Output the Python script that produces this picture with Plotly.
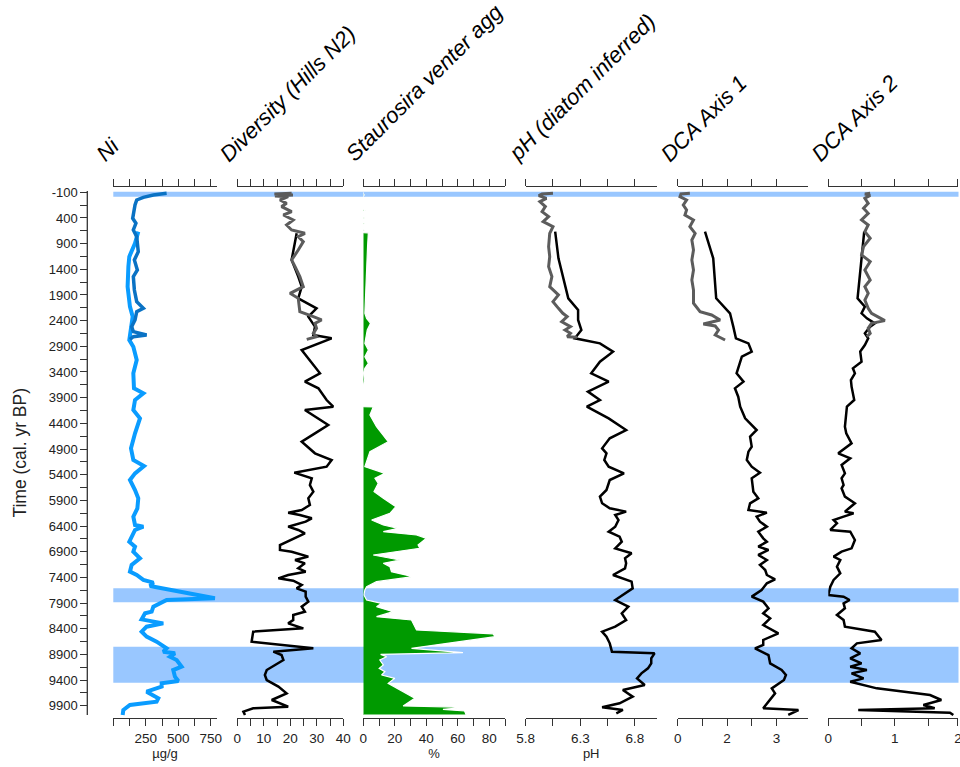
import plotly.graph_objects as go

# ---------------- DATA (age in cal. yr BP, value) ----------------
ni_core_long = [(666,192),(894,167),(1153,123),(1348,116),(1738,110),(2127,128),(2322,149),(2517,136),(2777,123),
    (2907,154),(3166,180),(3426,154),(3718,159),(3816,231),(3946,167),(4140,154),(4303,205),(4595,167),(4887,136),
    (5114,154),(5231,236),(5374,167),(5504,128),(5698,167),(5861,192),(6056,185),(6218,154),(6380,167),(6413,231),
    (6477,167),(6705,123),(6802,167),(6900,154),(7029,205),(7159,141),(7289,128),(7354,180),(7451,231),(7503,308),
    (7568,282),(7614,384),(7711,563),(7808,781),(7841,410),(7906,359),(7971,308),(8068,295),(8101,244),(8218,218),
    (8296,384),(8361,256),(8458,218),(8555,256),(8653,333),(8783,410),(8848,384),(8880,474),(8945,436),(9010,487),
    (9140,525),(9205,461),(9335,474),(9419,500),(9464,372),(9529,372),(9627,256),(9756,346),(9821,333),(9886,128),
    (9984,77),(10081,72)]
ni_core_short = [(-80,410),(-48,308),(-2,231),(50,180),(147,167),(310,159),(407,149),(504,174),(634,154),(764,180),
    (1056,192),(1218,162),(1413,185),(1543,154),(1803,162),(2030,180),(2160,231),(2225,180),(2387,167),(2517,141),
    (2614,154),(2679,256),(2712,154),(2764,128)]

div_core_long = [(699,22.4),(1218,20.5),(1543,23.0),(1738,24.3),(1965,23.0),(2160,29.9),(2322,26.8),(2517,29.3),
    (2679,28.7),(2744,35.6),(2971,24.3),(3166,27.4),(3426,31.2),(3588,25.5),(3718,30.6),(3946,33.7),(4075,36.2),
    (4140,25.5),(4432,34.3),(4595,29.3),(4757,24.3),(4984,29.3),(5114,35.6),(5244,33.7),(5361,21.5),(5471,28.1),
    (5601,27.4),(5731,28.7),(5861,26.8),(5990,27.4),(6088,24.3),(6140,19.2),(6185,23.6),(6250,28.1),(6315,25.8),
    (6413,19.2),(6477,23.0),(6542,25.5),(6672,20.5),(6770,16.1),(6867,16.1),(6900,20.5),(6997,26.8),(7062,21.8),
    (7127,25.5),(7224,23.0),(7289,25.8),(7354,19.2),(7419,15.5),(7464,21.1),(7549,24.3),(7614,22.4),(7679,25.8),
    (7776,25.8),(7873,26.8),(7971,24.3),(8068,25.5),(8133,21.1),(8231,21.1),(8296,19.2),(8393,24.9),(8458,6.0),
    (8653,5.4),(8783,28.7),(8848,13.6),(8913,16.7),(9010,17.4),(9205,11.1),(9302,10.4),(9400,11.1),(9529,15.5),
    (9659,18.6),(9789,13.0),(9919,19.2),(9951,6.0),(10016,2.3),(10081,2.9)]
div_core_short = [(-80,20.5),(-67,14.0),(-48,21.0),(-30,14.2),(-15,19.2),(50,16.1),(115,18.6),(179,16.7),(277,20.5),
    (342,17.4),(439,21.1),(537,18.6),(634,20.5),(699,25.5),(764,23.0),(861,24.9),(1024,23.0),(1218,20.5),(1348,21.8),
    (1543,23.6),(1738,24.9),(1868,19.9),(1965,23.0),(2225,23.6),(2322,28.7),(2387,31.8),(2452,29.3),(2549,29.9),
    (2647,28.7),(2712,29.9),(2764,26.2)]

stau_pct = [(-100,0),(-60,0),(-50,0.8),(-40,0),(240,0),(250,1.5),(265,0),(390,0),(400,0.8),(410,0),(500,0),
    (510,0.8),(520,0),(630,0),(640,0.8),(650,0),(686,0),(690,3.2),(959,2.7),(1348,2.1),(1868,1.5),(2257,1.0),
    (2355,2.1),(2452,4.6),(2582,2.5),(2842,1.0),(2971,3.2),(3101,1.0),(3231,3.2),(3329,1.0),(3420,0),(3556,0.8),
    (3650,0),(4075,0),(4080,6.3),(4238,4.2),(4465,8.4),(4757,15.8),(4952,4.2),(5244,1.0),(5374,13.7),(5471,7.4),
    (5568,9.5),(5731,6.8),(5861,12.7),(6023,20.7),(6153,16.9),(6283,5.3),(6380,12.7),(6445,22.2),(6510,12.7),
    (6575,33.8),(6640,40.1),(6770,34.8),(6835,35.9),(6964,6.3),(7062,23.2),(7127,12.7),(7192,16.9),(7289,17.9),
    (7386,31.6),(7484,8.4),(7581,2.1),(7646,1.0),(7744,0.4),(7841,2.1),(7906,11.6),(7971,8.4),(8068,19.0),
    (8166,8.4),(8231,30.6),(8361,32.7),(8426,33.8),(8500,82.3),(8555,83.8),(8783,30.6),(8867,63.3),(8900,11.0),
    (8945,14.8),(9010,10.5),(9107,12.7),(9172,10.1),(9237,13.7),(9302,11.6),(9367,20.0),(9464,15.8),(9594,23.2),
    (9756,32.7),(9906,25.3),(9932,65.4),(9971,50.6),(10003,64.3),(10081,65.4)]

ph_core_long = [(666,6.07),(1186,6.10),(1965,6.19),(2192,6.28),(2387,6.28),(2582,6.31),(2744,6.25),(2842,6.48),
    (3004,6.60),(3199,6.48),(3426,6.40),(3588,6.56),(3783,6.37),(3946,6.48),(4075,6.36),(4303,6.56),(4530,6.72),
    (4692,6.57),(4887,6.50),(4984,6.54),(5114,6.52),(5244,6.56),(5374,6.70),(5504,6.57),(5698,6.54),(5828,6.48),
    (5958,6.50),(6056,6.57),(6120,6.72),(6185,6.62),(6283,6.65),(6413,6.62),(6510,6.56),(6607,6.66),(6705,6.68),
    (6835,6.62),(6932,6.77),(7029,6.71),(7127,6.72),(7224,6.71),(7354,6.60),(7484,6.77),(7614,6.78),(7711,6.71),
    (7841,6.62),(7971,6.74),(8101,6.68),(8231,6.72),(8361,6.62),(8458,6.50),(8555,6.54),(8685,6.57),(8848,6.59),
    (8880,6.98),(8978,6.95),(9075,6.95),(9172,6.92),(9270,6.86),(9367,6.82),(9497,6.89),(9594,6.69),(9724,6.78),
    (9854,6.66),(9932,6.50),(9984,6.69),(10049,6.63)]
ph_core_short = [(-80,6.05),(-67,5.95),(-35,5.92),(17,5.99),(82,5.93),(179,5.98),(277,5.95),(374,6.01),(472,5.96),
    (569,6.05),(699,6.02),(959,6.01),(1153,6.02),(1348,6.01),(1543,6.04),(1738,6.02),(1900,6.10),(2030,6.05),
    (2160,6.10),(2257,6.14),(2322,6.18),(2420,6.13),(2517,6.21),(2582,6.16),(2647,6.21),(2712,6.18),(2725,6.27)]

dca1_core_long = [(666,0.83),(1186,1.08),(1965,1.17),(2257,1.59),(2517,1.69),(2744,1.77),(2842,2.15),(3004,2.25),
    (3101,1.95),(3426,1.79),(3588,2.00),(3718,1.74),(3881,1.84),(4075,1.90),(4303,2.05),(4400,2.20),(4530,2.40),
    (4660,2.20),(4854,2.25),(4952,2.15),(5114,2.10),(5244,2.25),(5361,2.50),(5471,2.25),(5731,2.30),(5861,2.45),
    (5958,2.20),(6088,2.15),(6140,2.71),(6218,2.40),(6315,2.50),(6413,2.71),(6510,2.45),(6640,2.60),(6705,2.71),
    (6802,2.45),(6867,2.76),(6964,2.45),(7062,2.71),(7159,2.50),(7257,2.66),(7354,2.71),(7438,2.96),(7516,2.71),
    (7646,2.55),(7776,2.25),(7873,2.60),(8003,2.76),(8101,2.60),(8198,2.81),(8328,2.60),(8490,3.06),(8620,2.60),
    (8718,2.60),(8783,2.35),(8913,2.76),(9075,2.81),(9205,3.16),(9302,3.29),(9400,3.23),(9562,2.86),(9659,2.96),
    (9789,2.81),(9951,2.60),(9984,3.67),(10081,3.36)]
dca1_core_short = [(-80,0.37),(-67,0.10),(-15,0.07),(50,0.27),(147,0.17),(244,0.27),(342,0.22),(439,0.48),
    (569,0.37),(699,0.53),(829,0.43),(1024,0.48),(1218,0.43),(1413,0.48),(1608,0.43),(1803,0.48),(2062,0.48),
    (2225,0.68),(2290,1.03),(2387,1.29),(2465,0.78),(2504,1.14),(2582,1.24),(2679,1.14),(2777,1.44)]

dca2_core_long = [(666,0.54),(1965,0.44),(2127,0.55),(2257,0.50),(2355,0.58),(2452,0.70),(2517,0.63),(2647,0.55),
    (2744,0.60),(2874,0.55),(3004,0.48),(3199,0.50),(3329,0.37),(3426,0.40),(3556,0.34),(3685,0.35),(3946,0.39),
    (4075,0.28),(4465,0.25),(4595,0.27),(4790,0.35),(4984,0.15),(5082,0.33),(5211,0.20),(5374,0.25),(5471,0.20),
    (5601,0.23),(5666,0.20),(5828,0.25),(5958,0.40),(6120,0.25),(6153,0.38),(6218,0.23),(6283,0.08),(6348,0.13),
    (6477,0.03),(6510,0.33),(6672,0.40),(6835,0.35),(6900,0.20),(6997,0.08),(7062,0.18),(7192,0.13),(7322,0.18),
    (7451,0.08),(7581,0.03),(7744,0.00),(7776,0.23),(7841,0.32),(7906,0.23),(8003,0.25),(8133,0.13),(8231,0.23),
    (8361,0.25),(8458,0.70),(8620,0.80),(8685,0.43),(8783,0.35),(8880,0.48),(8978,0.33),(9075,0.50),(9140,0.33),
    (9205,0.58),(9270,0.35),(9367,0.53),(9432,0.33),(9562,0.73),(9692,1.53),(9789,1.70),(9886,1.43),(9951,1.60),
    (9984,0.45),(10036,1.83),(10081,1.88)]
dca2_core_short = [(-80,0.63),(-67,0.55),(-40,0.63),(17,0.55),(115,0.60),(212,0.53),(310,0.60),(439,0.50),
    (537,0.60),(666,0.55),(796,0.63),(959,0.53),(1121,0.50),(1251,0.63),(1413,0.55),(1608,0.63),(1738,0.55),
    (1868,0.60),(1998,0.55),(2160,0.60),(2257,0.65),(2355,0.78),(2400,0.85),(2452,0.65),(2549,0.60),(2647,0.63),
    (2712,0.58)]

event_bands = [(-110, -15), (7613, 7886), (8751, 9452)]

panel_titles = ["Ni", "Diversity (Hills N2)", "Staurosira venter agg", "pH (diatom inferred)", "DCA Axis 1", "DCA Axis 2"]
unit_titles = ["µg/g", "", "%", "pH", "", ""]
y_tick_vals = list(range(-100, 10000, 500))
y_minor_vals = list(range(150, 10000, 500))

# ---------------- LAYOUT GEOMETRY ----------------
W, H = 960, 767
def px(x): return x / W
def py(y): return 1 - y / H

panels_px = [(113.3, 216.7), (237.3, 343.3), (363.3, 505.0), (525.7, 656.7), (677.7, 808.3), (828.3, 958.3)]
panel_ranges = [[0, 795], [0, 40], [0, 90], [5.8, 7.0], [0, 3.97], [0, 1.955]]
panel_ticks = [
    ([0, 125, 250, 375, 500, 625, 750], ["", "", "250", "", "500", "", "750"]),
    ([0, 5, 10, 15, 20, 25, 30, 35, 40], ["0", "", "10", "", "20", "", "30", "", "40"]),
    ([0, 10, 20, 30, 40, 50, 60, 70, 80, 90], ["0", "", "20", "", "40", "", "60", "", "80", ""]),
    ([5.8, 6.05, 6.3, 6.55, 6.8], ["5.8", "", "6.3", "", "6.8"]),
    ([0, 0.75, 1.5, 2.25, 3.0], ["0", "", "2", "", "3"]),
    ([0, 0.5, 1.0, 1.5, 1.95], ["0", "", "1", "", "2"]),
]

AX = "#333333"
FONT = "Liberation Sans, Arial, sans-serif"
BLACK, GRAY = "#000000", "#5c5c5c"

def unz(pairs):
    return [p[0] for p in pairs], [p[1] for p in pairs]

fig = go.Figure()

def add_line(pairs, xa, color, width):
    yy, xx = unz(pairs)
    fig.add_trace(go.Scatter(x=xx, y=yy, xaxis=xa, yaxis="y", mode="lines",
                             line=dict(color=color, width=width), hoverinfo="skip", showlegend=False))

add_line(ni_core_long, "x", "#0a9cff", 4)
add_line(ni_core_short, "x", "#0a72c4", 3.5)
add_line(div_core_long, "x2", BLACK, 2.5)
add_line(div_core_short, "x2", GRAY, 3)

sy, sx = unz(stau_pct)
fig.add_trace(go.Scatter(x=[0] + sx + [0], y=[sy[0]] + sy + [sy[-1]], xaxis="x3", yaxis="y",
                         mode="lines", fill="toself", fillcolor="#009a00",
                         line=dict(color="white", width=1.2), hoverinfo="skip", showlegend=False))

add_line(ph_core_long, "x4", BLACK, 2.5)
add_line(ph_core_short, "x4", GRAY, 3)
add_line(dca1_core_long, "x5", BLACK, 2.5)
add_line(dca1_core_short, "x5", GRAY, 3)
add_line(dca2_core_long, "x6", BLACK, 2.5)
add_line(dca2_core_short, "x6", GRAY, 3)

y_top_px, y_bot_px = 187.3, 718.3
yr_per_px = 1 / 0.05134
y_top_val = -100 + (y_top_px - 192.3) * yr_per_px
y_bot_val = -100 + (y_bot_px - 192.3) * yr_per_px

layout = dict(
    width=W, height=H, autosize=False, margin=dict(l=0, r=0, t=0, b=0, pad=0),
    paper_bgcolor="white", plot_bgcolor="rgba(0,0,0,0)",
    font=dict(family=FONT, color=AX),
    showlegend=False,
    yaxis=dict(domain=[py(y_bot_px), py(y_top_px)], range=[y_bot_val, y_top_val],
               anchor="free", position=px(87.3), side="left", automargin=False,
               showline=False, showgrid=False, zeroline=False,
               ticks="outside", ticklen=7, tickwidth=1.3, tickcolor=AX,
               tickmode="array", tickvals=y_tick_vals, ticktext=[str(v) for v in y_tick_vals],
               tickfont=dict(size=13, color="#222"),
               minor=dict(tickmode="array", tickvals=y_minor_vals, ticks="outside", ticklen=7,
                          tickwidth=1.3, tickcolor=AX, showgrid=False),
               title=dict(text="Time (cal. yr BP)", font=dict(size=17.5, color="#222"), standoff=16)),
)

for i, ((l, r), rng, (tv, tt), ut) in enumerate(zip(panels_px, panel_ranges, panel_ticks, unit_titles)):
    key = "xaxis" if i == 0 else f"xaxis{i+1}"
    layout[key] = dict(domain=[px(l), px(r)], range=rng, anchor="y", side="bottom", automargin=False,
                       showline=True, linecolor=AX, linewidth=1.3, mirror="ticks",
                       ticks="outside", ticklen=7, tickwidth=1.3, tickcolor=AX,
                       tickmode="array", tickvals=tv, ticktext=tt, ticklabeloverflow="allow",
                       tickfont=dict(size=13.5, color="#222"),
                       showgrid=False, zeroline=False,
                       title=dict(text=ut, font=dict(size=13, color="#222"), standoff=3))

fig.update_layout(**layout)

shapes = []
for (a, b) in event_bands:
    shapes.append(dict(type="rect", xref="paper", yref="y", x0=px(113.3), x1=px(958.5), y0=a, y1=b,
                       fillcolor="#99c7ff", line=dict(width=0), layer="below"))
shapes.append(dict(type="line", xref="paper", yref="y", x0=px(87.3), x1=px(87.3),
                   y0=-100 + (191 - 192.3) * yr_per_px, y1=-100 + (715 - 192.3) * yr_per_px,
                   line=dict(color=AX, width=1.3)))
fig.update_layout(shapes=shapes)

ann = []
for (l, r), t in zip(panels_px, panel_titles):
    ann.append(dict(text=t, xref="paper", yref="paper", x=px(l - 25), y=py(169),
                    xanchor="left", yanchor="bottom", textangle=-45, showarrow=False,
                    font=dict(size=22, color="black", family=FONT, style="italic")))
fig.update_layout(annotations=ann)

fig.write_html("out.html", config={"responsive": False})
